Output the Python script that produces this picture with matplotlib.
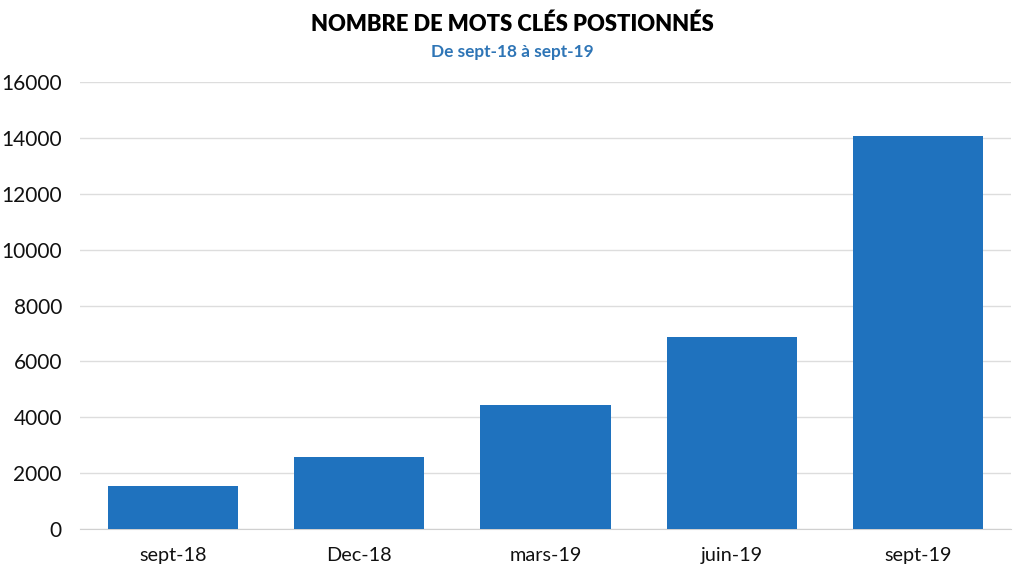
import matplotlib
matplotlib.use("Agg")
import matplotlib.pyplot as plt

categories = ["sept-18", "Dec-18", "mars-19", "juin-19", "sept-19"]
values = [1550, 2590, 4445, 6880, 14070]
yticks = [0, 2000, 4000, 6000, 8000, 10000, 12000, 14000, 16000]

plt.rcParams['font.family'] = ['Lato', 'DejaVu Sans']

fig = plt.figure(figsize=(10.24, 5.76), dpi=100)
W, H = 1024, 576
left, right, top, bottom = 80, 1011, 82, 529
ax = fig.add_axes([left / W, 1 - bottom / H, (right - left) / W, (bottom - top) / H])

x = list(range(len(categories)))
ax.bar(x, values, width=0.70, color="#1F72BE", zorder=3)
ax.set_xlim(-0.5, len(categories) - 0.5)
ax.set_ylim(0, 16000)
ax.set_yticks(yticks)
ax.set_yticklabels([str(v) for v in yticks], fontsize=15, color="#111111")
ax.set_xticks(x)
ax.set_xticklabels(categories, fontsize=14.3, color="#111111")
ax.yaxis.grid(True, color="#DDDDDD", linewidth=1, zorder=0)
ax.tick_params(axis='both', length=0)
ax.tick_params(axis='y', pad=13)
ax.tick_params(axis='x', pad=13)
for s in ["top", "right", "left"]:
    ax.spines[s].set_visible(False)
ax.spines["bottom"].set_color("#D0D0D0")

fig.text(0.5, 1 - 24 / H, "NOMBRE DE MOTS CLÉS POSTIONNÉS", ha="center", va="center",
         fontsize=15.8, fontweight="heavy", color="#000000")
fig.text(0.5, 1 - 52 / H, "De sept-18 à sept-19", ha="center", va="center",
         fontsize=12.4, fontweight="bold", color="#2E75B6")

fig.savefig("out.png", dpi=100)
